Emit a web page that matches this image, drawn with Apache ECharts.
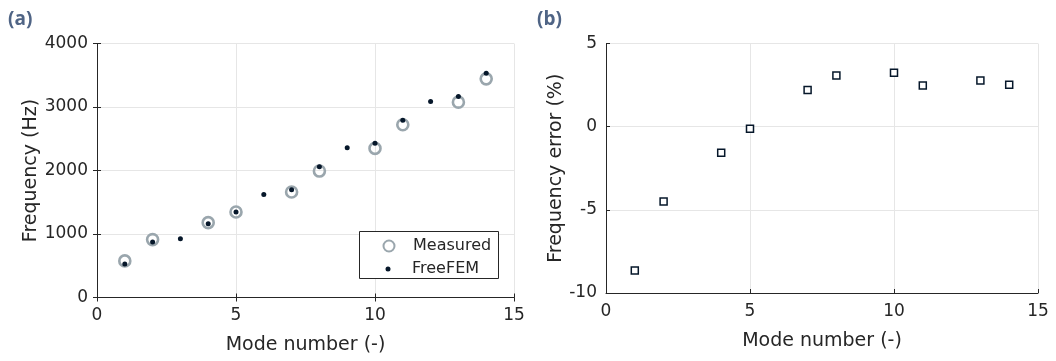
<!DOCTYPE html>
<html>
<head>
<meta charset="utf-8">
<script src="https://cdn.jsdelivr.net/npm/echarts@6/dist/echarts.min.js"></script>
<style>
html,body{margin:0;padding:0;background:#fff;}
#chart{width:1056px;height:361px;}
</style>
</head>
<body>
<div id="chart"></div>
<script>
// ---- data ----
const measuredModes = [1, 2, 4, 5, 7, 8, 10, 11, 13, 14];
const measuredHz = [576, 912, 1179, 1347, 1661, 1991, 2348, 2720, 3076, 3443];
const femModes = [1, 2, 3, 4, 5, 6, 7, 8, 9, 10, 11, 12, 13, 14];
const femHz = [529, 875, 927, 1163, 1347, 1624, 1698, 2059, 2358, 2431, 2793, 3086, 3165, 3532];
const errorModes = [1, 2, 4, 5, 7, 8, 10, 11, 13, 14];
const errorPct = [-8.64, -4.50, -1.57, -0.13, 2.21, 3.07, 3.24, 2.48, 2.78, 2.52];
const panelLabels = ['(a)', '(b)'];
const xName = 'Mode number (-)';
const yNames = ['Frequency (Hz)', 'Frequency error (%)'];
const seriesNames = ['Measured', 'FreeFEM'];

const FONT = 'DejaVu Sans';
const TXT = '#262626';
const AXC = '#262626';
const GRIDC = '#e6e6e6';

const zip = (xs, ys) => xs.map((x, i) => [x, ys[i]]);
const plain = v => String(v);

function mainX(grid, nameGap) {
  return {
    type: 'value', gridIndex: grid, min: 0, max: 15, interval: 5,
    name: xName, nameLocation: 'middle', nameGap: nameGap,
    nameTextStyle: {fontFamily: FONT, fontSize: 19, color: TXT},
    axisLine: {show: true, onZero: false, lineStyle: {color: AXC, width: 1}},
    axisTick: {show: true, inside: true, length: 4, lineStyle: {color: AXC}},
    axisLabel: {fontFamily: FONT, fontSize: 17, color: TXT, margin: 10, formatter: plain},
    splitLine: {show: true, lineStyle: {color: GRIDC, width: 1}}
  };
}
function mainY(grid, min, max, interval, name, nameGap) {
  return {
    type: 'value', gridIndex: grid, min: min, max: max, interval: interval,
    name: name, nameLocation: 'middle', nameGap: nameGap,
    nameTextStyle: {fontFamily: FONT, fontSize: 19, color: TXT},
    axisLine: {show: true, onZero: false, lineStyle: {color: AXC, width: 1}},
    axisTick: {show: true, inside: true, length: 4, lineStyle: {color: AXC}},
    axisLabel: {fontFamily: FONT, fontSize: 17, color: TXT, margin: 9, formatter: plain},
    splitLine: {show: true, lineStyle: {color: GRIDC, width: 1}}
  };
}

const chart = echarts.init(document.getElementById('chart'), null, {renderer: 'canvas'});
const option = {
  backgroundColor: '#ffffff',
  animation: false,
  title: [
    {text: panelLabels[0], left: 3, top: 5, textStyle: {fontFamily: 'Open Sans', fontWeight: 'bold', fontSize: 19, color: '#4f6485'}},
    {text: panelLabels[1], left: 532, top: 5, textStyle: {fontFamily: 'Open Sans', fontWeight: 'bold', fontSize: 19, color: '#4f6485'}}
  ],
  grid: [
    {left: 97, right: 542, top: 43.5, bottom: 63.5},
    {left: 606, right: 18, top: 43.5, bottom: 68}
  ],
  xAxis: [
    mainX(0, 38),
    {type: 'value', gridIndex: 0, position: 'top', min: 0, max: 15, interval: 5,
     axisLine: {show: true, lineStyle: {color: AXC}}, axisTick: {show: true, inside: true, length: 4, lineStyle: {color: AXC}},
     axisLabel: {show: false}, splitLine: {show: false}},
    mainX(1, 39)
  ],
  yAxis: [
    mainY(0, 0, 4000, 1000, yNames[0], 52),
    {type: 'value', gridIndex: 0, position: 'right', min: 0, max: 4000, interval: 1000,
     axisLine: {show: true, lineStyle: {color: AXC}}, axisTick: {show: true, inside: true, length: 4, lineStyle: {color: AXC}},
     axisLabel: {show: false}, splitLine: {show: false}},
    mainY(1, -10, 5, 5, yNames[1], 40)
  ],
  legend: [
    {data: [{name: seriesNames[0], icon: 'circle'}], left: 382.5, top: 238, orient: 'vertical',
     itemWidth: 38, itemHeight: 11, padding: 0, z: 6,
     textStyle: {fontFamily: FONT, fontSize: 16, color: TXT}},
    {data: [{name: seriesNames[1], icon: 'circle'}], left: 385.5, top: 261, orient: 'vertical',
     itemWidth: 38, itemHeight: 5, padding: 0, z: 6,
     textStyle: {fontFamily: FONT, fontSize: 16, color: TXT}}
  ],
  graphic: [
    {type: 'rect', z: 5, shape: {x: 359.5, y: 231.5, width: 139, height: 47},
     style: {fill: '#ffffff', stroke: '#262626', lineWidth: 1}}
  ],
  series: [
    {name: seriesNames[0], type: 'scatter', xAxisIndex: 0, yAxisIndex: 0,
     data: zip(measuredModes, measuredHz), symbol: 'circle', symbolSize: 11,
     itemStyle: {color: 'rgba(255,255,255,0)', borderColor: '#9aa6ad', borderWidth: 2.6, opacity: 1}, z: 2},
    {name: seriesNames[1], type: 'scatter', xAxisIndex: 0, yAxisIndex: 0,
     data: zip(femModes, femHz), symbol: 'circle', symbolSize: 5,
     itemStyle: {color: '#06172a', opacity: 1}, z: 3},
    {name: 'Error', type: 'scatter', xAxisIndex: 2, yAxisIndex: 2,
     data: zip(errorModes, errorPct), symbol: 'rect', symbolSize: 7,
     itemStyle: {color: '#ffffff', borderColor: '#06172a', borderWidth: 1.5, opacity: 1}, z: 3}
  ]
};
chart.setOption(option);
</script>
</body>
</html>
